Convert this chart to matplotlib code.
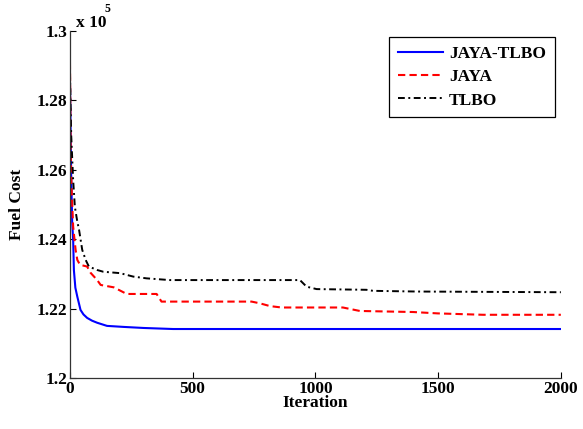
import matplotlib
matplotlib.use("Agg")
import matplotlib.pyplot as plt
from matplotlib.ticker import FixedLocator, FixedFormatter

plt.rcParams["font.family"] = ["Liberation Serif", "DejaVu Serif"]
plt.rcParams["font.weight"] = "bold"

COST_SCALE = 1e5

# Convergence of best fuel cost per iteration
iter_jt = [0, 2, 5, 9, 13, 16, 22, 30, 43, 55, 70, 90, 111, 151, 220, 300, 420, 2000]
cost_jt = [128500, 127500, 125800, 124500, 123980, 123110, 122600, 122340, 121960,
           121830, 121730, 121650, 121590, 121500, 121470, 121440, 121410, 121410]

iter_jaya = [0, 3, 7, 13, 23, 30, 41, 70, 84, 111, 125, 179, 212, 231, 353, 373,
             740, 774, 815, 862, 1112, 1181, 1397, 1499, 1683, 2000]
cost_jaya = [129100, 126500, 125400, 124360, 123690, 123400, 123260, 123210, 123030,
             122820, 122680, 122610, 122490, 122420, 122420, 122200, 122200, 122150,
             122070, 122030, 122030, 121930, 121900, 121860, 121820, 121820]

iter_tlbo = [0, 5, 13, 20, 30, 37, 50, 64, 77, 111, 136, 204, 258, 312, 407, 937,
             964, 1005, 1208, 1235, 1412, 2000]
cost_tlbo = [128800, 127000, 125700, 124930, 124500, 124270, 123690, 123400, 123210,
             123110, 123060, 123020, 122920, 122870, 122820, 122820, 122630, 122560,
             122540, 122510, 122490, 122470]

x_ticks = [0, 500, 1000, 1500, 2000]
y_ticks = [1.2, 1.22, 1.24, 1.26, 1.28, 1.3]
y_tick_labels = ["1.2", "1.22", "1.24", "1.26", "1.28", "1.3"]

fig = plt.figure(figsize=(5.83, 4.29), dpi=100)
ax = fig.add_axes([0.120, 0.119, 0.842, 0.809])

ax.plot(iter_jt, [c / COST_SCALE for c in cost_jt], color="#0000ff", lw=1.5,
        linestyle="-", label="JAYA-TLBO")
ax.plot(iter_jaya, [c / COST_SCALE for c in cost_jaya], color="#ff0000", lw=1.5,
        linestyle=(0, (3.5, 2)), label="JAYA")
ax.plot(iter_tlbo, [c / COST_SCALE for c in cost_tlbo], color="black", lw=1.4,
        linestyle=(0, (3.5, 1.8, 1, 1.8)), label="TLBO")

ax.set_xlim(0, 2000)
ax.set_ylim(1.2, 1.3)
ax.xaxis.set_major_locator(FixedLocator(x_ticks))
ax.yaxis.set_major_locator(FixedLocator(y_ticks))
ax.yaxis.set_major_formatter(FixedFormatter(y_tick_labels))

for side in ("top", "right"):
    ax.spines[side].set_visible(False)
for side in ("left", "bottom"):
    ax.spines[side].set_linewidth(0.9)
    ax.spines[side].set_color("#333333")

ax.tick_params(direction="in", length=4, width=0.8, labelsize=12.5, pad=2)
for lbl in ax.get_xticklabels() + ax.get_yticklabels():
    lbl.set_fontweight("bold")

ax.set_xlabel("Iteration", fontsize=12.5, fontweight="bold", labelpad=-1)
ax.set_ylabel("Fuel Cost", fontsize=12.5, fontweight="bold", labelpad=8)

ax.text(0.012, 1.0, "x 10", transform=ax.transAxes,
        fontsize=12.5, fontweight="bold", ha="left", va="bottom")
ax.text(0.07, 1.045, "5", transform=ax.transAxes,
        fontsize=8.5, fontweight="bold", ha="left", va="bottom")

leg = ax.legend(loc="upper right", bbox_to_anchor=(1.005, 1.008),
                prop={"weight": "bold", "size": 12.5}, handlelength=2.6,
                handletextpad=0.35, labelspacing=0.42, borderpad=0.5,
                fancybox=False, framealpha=1)
leg.get_frame().set_edgecolor("black")
leg.get_frame().set_linewidth(0.9)

fig.savefig("out.png", dpi=100)
